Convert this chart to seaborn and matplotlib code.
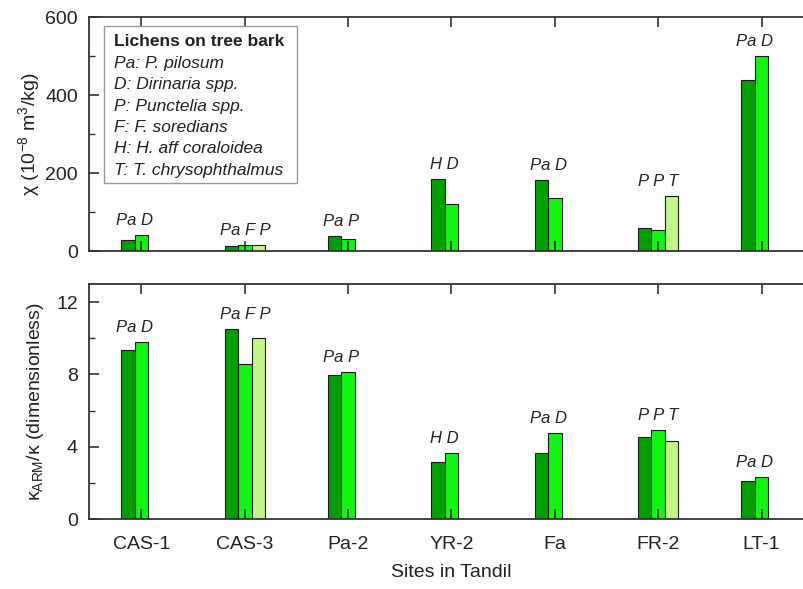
import numpy as np
import pandas as pd
import matplotlib
matplotlib.use("Agg")
import matplotlib.pyplot as plt
from matplotlib.ticker import MultipleLocator, FixedLocator
from matplotlib.patches import Rectangle
import seaborn as sns

# ---------------- data ----------------
sites = ["CAS-1", "CAS-3", "Pa-2", "YR-2", "Fa", "FR-2", "LT-1"]
species = [["Pa", "D"], ["Pa", "F", "P"], ["Pa", "P"], ["H", "D"],
           ["Pa", "D"], ["P", "P", "T"], ["Pa", "D"]]
chi = [[28, 41], [13, 15, 15], [39, 30], [185, 120],
       [181, 135], [58, 54, 142], [439, 501]]
kappa_ratio = [[9.33, 9.79], [10.51, 8.58, 10.01], [7.95, 8.15], [3.15, 3.64],
               [3.64, 4.75], [4.55, 4.95, 4.33], [2.10, 2.34]]
legend_title = "Lichens on tree bark"
legend_lines = ["Pa: P. pilosum", "D: Dirinaria spp.", "P: Punctelia spp.",
                "F: F. soredians", "H: H. aff coraloidea", "T: T. chrysophthalmus"]
slots = ["1", "2", "3"]
colors = ["#00A000", "#11F511", "#C4F58A"]

rows = []
for s, sp, c, k in zip(sites, species, chi, kappa_ratio):
    for j in range(len(sp)):
        rows.append({"site": s, "slot": slots[j], "chi": c[j], "kr": k[j]})
df = pd.DataFrame(rows)

# ---------------- style ----------------
sns.set_theme(style="ticks")
plt.rcParams["font.family"] = ["Liberation Sans", "DejaVu Sans"]
plt.rcParams["mathtext.default"] = "regular"
plt.rcParams["axes.edgecolor"] = "#333333"
plt.rcParams["axes.linewidth"] = 1.3

fig = plt.figure(figsize=(8.04, 5.89), dpi=100)
W, H = 804, 589
left, right = 89 / W, 814 / W
ax1 = fig.add_axes([left, 1 - 251 / H, right - left, (251 - 17) / H])
ax2 = fig.add_axes([left, 1 - 519 / H, right - left, (519 - 284) / H])

bw = 0.39
pal = dict(zip(slots, colors))
for ax, col in [(ax1, "chi"), (ax2, "kr")]:
    sns.barplot(data=df, x="site", y=col, hue="slot", hue_order=slots,
                order=sites, palette=pal, width=bw, errorbar=None,
                edgecolor="#1a1a1a", linewidth=0.8, legend=False, ax=ax,
                saturation=1)
    ax.set_axisbelow(False)
    ax.set_xlim(-0.508, 6.508)
    ax.tick_params(axis="both", which="both", direction="in",
                   top=True, right=True, color="#333333", labelsize=14,
                   labelcolor="#222222")
    ax.tick_params(axis="both", which="major", length=7, width=1.2)
    ax.tick_params(axis="y", which="minor", length=4, width=1.0)
    ax.tick_params(axis="y", which="major", pad=8)
    ax.tick_params(axis="x", which="minor", bottom=False, top=False)

ax1.set_ylim(0, 600)
ax1.yaxis.set_major_locator(FixedLocator([0, 200, 400, 600]))
ax1.yaxis.set_minor_locator(MultipleLocator(100))
ax1.set_xlabel("")
ax1.tick_params(axis="x", labelbottom=False)
ax1.set_ylabel("χ (10$^{-8}$ m$^3$/kg)", fontsize=14, labelpad=2, color="#222222")

ax2.set_ylim(0, 13)
ax2.yaxis.set_major_locator(FixedLocator([0, 4, 8, 12]))
ax2.yaxis.set_minor_locator(FixedLocator([2, 6, 10]))
ax2.tick_params(axis="x", which="major", pad=12)
ax2.set_xlabel("Sites in Tandil", fontsize=14, labelpad=8, color="#222222")
ax2.set_ylabel("κ$_{ARM}$/κ (dimensionless)", fontsize=14, labelpad=7, color="#222222")

# group labels above bars
slot_w = bw / 3
for ax, vals in [(ax1, chi), (ax2, kappa_ratio)]:
    for i, (sp, v) in enumerate(zip(species, vals)):
        n = len(sp)
        xc = i + ((n - 1) / 2 - 1) * slot_w
        ax.annotate(" ".join(sp), xy=(xc, max(v)), xytext=(0, 5),
                    textcoords="offset points", ha="center", va="bottom",
                    fontsize=12, style="italic", color="#222222")

# legend-like text box
bx0, bx1 = (104 - 89) / 725, (297 - 89) / 725
by0, by1 = (251 - 183) / 234, (251 - 26) / 234
ax1.add_patch(Rectangle((bx0, by0), bx1 - bx0, by1 - by0, transform=ax1.transAxes,
                        facecolor="white", edgecolor="#999999", linewidth=1.0,
                        zorder=5))
tx = (114 - 89) / 725
ax1.text(tx, (251 - 41) / 234, legend_title, transform=ax1.transAxes,
         fontsize=12.5, fontweight="bold", va="center", ha="left",
         color="#222222", zorder=6)
for k, line in enumerate(legend_lines):
    ypix = 63.5 + k * 21.3
    ax1.text(tx, (251 - ypix) / 234, line, transform=ax1.transAxes,
             fontsize=12.5, style="italic", va="center", ha="left",
             color="#222222", zorder=6)

fig.savefig("out.png", dpi=100)
